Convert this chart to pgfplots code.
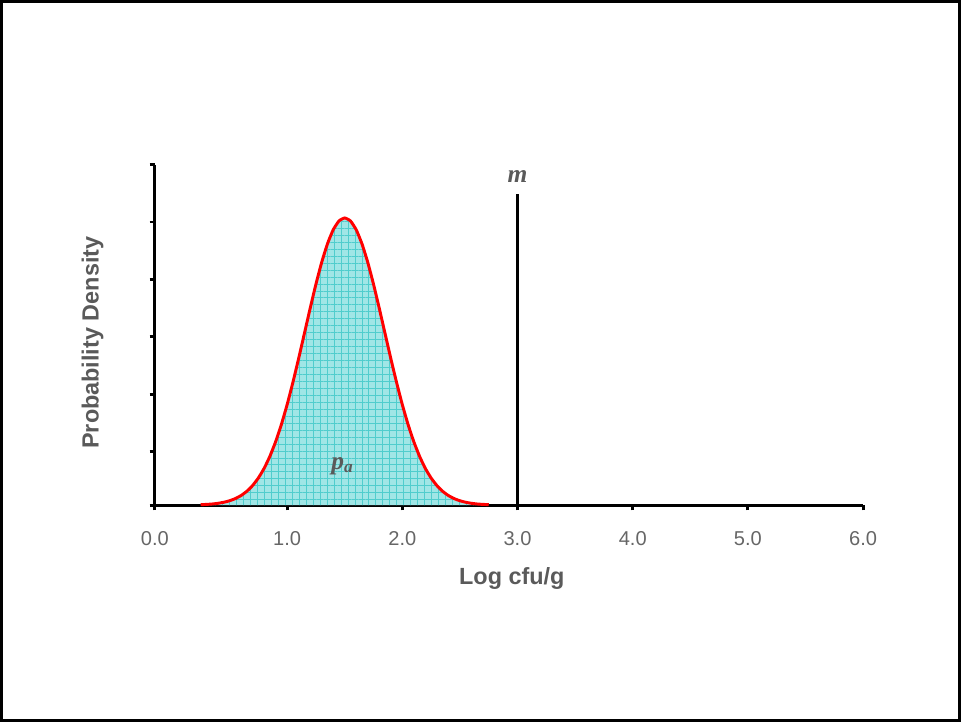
\documentclass[border=0pt]{standalone}
\usepackage{pgfplots}
\pgfplotsset{compat=1.18}
\usetikzlibrary{patterns.meta}
\usepackage{fontspec}
\setmainfont{Liberation Sans}
\newfontfamily\seriffont{Liberation Serif}
\definecolor{cyanfill}{RGB}{160,230,230}
\definecolor{gridc}{RGB}{80,205,205}
\definecolor{ticktext}{RGB}{102,102,102}
\definecolor{labtext}{RGB}{90,90,90}
\begin{document}
\begin{tikzpicture}
\begin{axis}[
  scale only axis,
  width=529.35pt, height=254.5pt,
  xmin=-0.148, xmax=6, ymin=0, ymax=5.93,
  axis x line=bottom, axis y line=left,
  axis line style={-, line width=2.2pt, black},
  every tick/.style={black, line width=2.2pt},
  tick align=outside, major tick length=4pt,
  xtick={-0.148,1,2,3,4,5,6},
  xticklabels={0.0,1.0,2.0,3.0,4.0,5.0,6.0},
  ytick={0,0.93,1.93,2.93,3.93,4.93,5.93},
  yticklabels={},
  /pgf/number format/assume math mode=true,
  xticklabel style={font=\fontsize{15}{18}\selectfont, text=ticktext, anchor=center, yshift=-21pt},
  xlabel={Log cfu/g},
  ylabel={Probability Density},
  xlabel style={font=\bfseries\fontsize{17.5}{22}\selectfont, text=labtext, at={(axis description cs:0.504,-0.215)}, anchor=center},
  ylabel style={font=\bfseries\fontsize{17.5}{22}\selectfont, text=labtext, at={(axis description cs:-0.088,0.477)}, anchor=center},
  clip=false,
]
\addplot[draw=none, fill=cyanfill, postaction={pattern={Hatch[angle=0,distance=5.2pt,line width=0.4pt]}, pattern color=gridc}] coordinates {
(0.25,0.007)(0.30,0.012)(0.35,0.019)(0.40,0.031)(0.45,0.049)(0.50,0.075)
(0.55,0.113)(0.60,0.166)(0.65,0.240)(0.70,0.340)(0.75,0.471)(0.80,0.638)
(0.85,0.848)(0.90,1.102)(0.95,1.403)(1.00,1.749)(1.05,2.136)(1.10,2.553)
(1.15,2.989)(1.20,3.426)(1.25,3.846)(1.30,4.227)(1.35,4.549)(1.40,4.794)
(1.45,4.948)(1.50,5.000)(1.55,4.948)(1.60,4.794)(1.65,4.549)(1.70,4.227)
(1.75,3.846)(1.80,3.426)(1.85,2.989)(1.90,2.553)(1.95,2.136)(2.00,1.749)
(2.05,1.403)(2.10,1.102)(2.15,0.848)(2.20,0.638)(2.25,0.471)(2.30,0.340)
(2.35,0.240)(2.40,0.166)(2.45,0.113)(2.50,0.075)(2.55,0.049)(2.60,0.031)
(2.65,0.019)(2.70,0.012)(2.75,0.007)
} \closedcycle;
\addplot[red, line width=2.2pt, smooth, tension=0.3] coordinates {
(0.25,0.007)(0.30,0.012)(0.35,0.019)(0.40,0.031)(0.45,0.049)(0.50,0.075)
(0.55,0.113)(0.60,0.166)(0.65,0.240)(0.70,0.340)(0.75,0.471)(0.80,0.638)
(0.85,0.848)(0.90,1.102)(0.95,1.403)(1.00,1.749)(1.05,2.136)(1.10,2.553)
(1.15,2.989)(1.20,3.426)(1.25,3.846)(1.30,4.227)(1.35,4.549)(1.40,4.794)
(1.45,4.948)(1.50,5.000)(1.55,4.948)(1.60,4.794)(1.65,4.549)(1.70,4.227)
(1.75,3.846)(1.80,3.426)(1.85,2.989)(1.90,2.553)(1.95,2.136)(2.00,1.749)
(2.05,1.403)(2.10,1.102)(2.15,0.848)(2.20,0.638)(2.25,0.471)(2.30,0.340)
(2.35,0.240)(2.40,0.166)(2.45,0.113)(2.50,0.075)(2.55,0.049)(2.60,0.031)
(2.65,0.019)(2.70,0.012)(2.75,0.007)
};
\addplot[black, line width=2.2pt] coordinates {(3,0)(3,5.42)};
\node[font=\seriffont\bfseries\itshape\fontsize{19}{22}\selectfont, text=labtext] at (axis cs:3,5.72) {m};
\node[font=\seriffont\bfseries\itshape\fontsize{19}{22}\selectfont, text=labtext] at (axis cs:1.48,0.68) {p$_{\mbox{\fontsize{13}{15}\selectfont a}}$};
\end{axis}
\draw[line width=2pt, black] (-114.75pt,-161.25pt) rectangle (601.5pt,376.5pt);
\end{tikzpicture}
\end{document}
